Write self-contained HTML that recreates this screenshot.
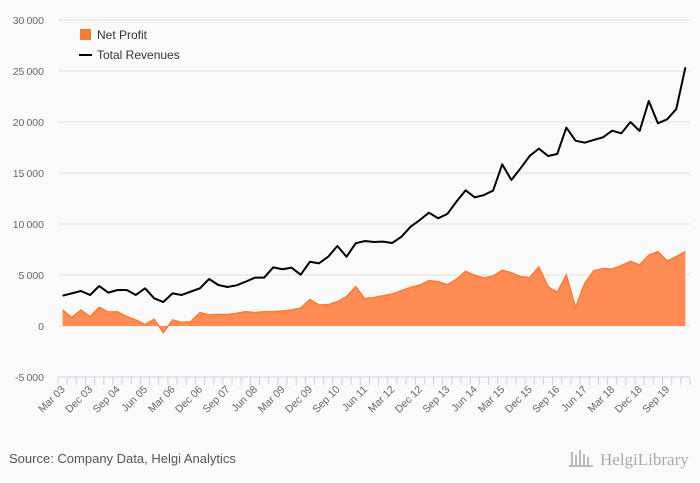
<!DOCTYPE html>
<html><head><meta charset="utf-8"><style>
body{margin:0;background:#fafafa;width:700px;height:483px;overflow:hidden;font-family:"Liberation Sans",sans-serif}
svg{display:block}
</style></head><body>
<svg id="chart" width="700" height="483" viewBox="0 0 700 483">
<rect width="700" height="483" fill="#fafafa"/>
<g id="grid"></g>
<g id="ylabels"></g>
<g id="plot"></g>
<g id="xaxis"></g>
<g>
<rect x="80" y="29" width="11" height="11" fill="#ff7a35"/>
<text x="97" y="39" font-size="12" fill="#333">Net Profit</text>
<line x1="79" y1="55" x2="92" y2="55" stroke="#000" stroke-width="2"/>
<text x="97" y="59" font-size="12" fill="#333">Total Revenues</text>
</g>
<text x="9" y="463" font-size="13" fill="#555">Source: Company Data, Helgi Analytics</text>
<text x="600" y="465" font-size="17" fill="#aaa" font-family="Liberation Serif, serif">HelgiLibrary</text>
<g fill="#bbb"><rect x="571" y="452" width="2" height="14"/><rect x="575" y="455" width="2" height="11"/><rect x="579" y="450" width="2" height="16"/><rect x="583" y="454" width="2" height="12"/><rect x="587" y="457" width="2" height="9"/><rect x="569" y="465" width="24" height="2"/></g>
</svg>
<script>
const categoryStartYear = 2003;
const revenues = [2970,3200,3430,3040,3920,3270,3530,3530,3040,3690,2710,2350,3200,3040,3370,3690,4610,4020,3820,3990,4350,4740,4740,5750,5560,5720,5030,6300,6140,6790,7840,6790,8110,8330,8240,8270,8140,8760,9740,10390,11110,10560,10980,12190,13300,12610,12840,13270,15850,14310,15460,16670,17390,16670,16860,19450,18170,17970,18240,18500,19150,18890,20000,19120,22060,19870,20260,21270,25360];
const netProfit = [1570,820,1570,920,1830,1370,1400,920,590,160,650,-650,590,360,420,1310,1080,1140,1110,1240,1410,1310,1410,1410,1470,1570,1760,2610,2060,2090,2390,2880,3860,2680,2800,2970,3140,3460,3790,4020,4450,4350,4050,4580,5360,4970,4710,4900,5460,5230,4840,4740,5780,3860,3300,5000,1800,4180,5430,5620,5590,5920,6340,5980,6930,7290,6370,6800,7290];
const yTicks = [-5000,0,5000,10000,15000,20000,25000,30000];
const months = ["Mar","Jun","Sep","Dec"];

const NS="http://www.w3.org/2000/svg";
const X0=58,X1=690,YTOP=20,YBOT=377,VMIN=-5000,VMAX=30000;
const n=revenues.length, bw=(X1-X0)/n;
function xs(i){return X0+bw*(i+0.5);}
function ys(v){return YBOT-(v-VMIN)/(VMAX-VMIN)*(YBOT-YTOP);}
function mk(t,a,p){const e=document.createElementNS(NS,t);for(const k in a)e.setAttribute(k,a[k]);p.appendChild(e);return e;}
const fmt=v=>String(v).replace(/\B(?=(\d{3})+(?!\d))/g,"\u2009");
const grid=document.getElementById('grid'),yl=document.getElementById('ylabels');
yTicks.forEach(v=>{
  if(v!==VMIN){const l=mk('line',{x1:X0,x2:X1,y1:ys(v),y2:ys(v),stroke:'#e2e2e2','stroke-width':1},grid);
  
  }
  const t=mk('text',{x:44,y:ys(v)+4,'text-anchor':'end','font-size':'10.5',fill:'#666'},yl);
  t.textContent=fmt(v).replace('-','-');
  
  
});
const plot=document.getElementById('plot');
let d='M'+xs(0)+','+ys(0);
netProfit.forEach((v,i)=>{d+='L'+xs(i)+','+ys(v);});
d+='L'+xs(n-1)+','+ys(0)+'Z';
const area=mk('path',{d:d,fill:'#ff8c55',stroke:'none'},plot);


const pl=mk('polyline',{points:netProfit.map((v,i)=>xs(i)+','+ys(v)).join(' '),fill:'none',stroke:'#ff7a35','stroke-width':1.5},plot);


const rl=mk('polyline',{points:revenues.map((v,i)=>xs(i)+','+ys(v)).join(' '),fill:'none',stroke:'#000','stroke-width':2,'stroke-linejoin':'round'},plot);


const xa=document.getElementById('xaxis');
const ax=mk('line',{x1:X0,x2:X1,y1:YBOT,y2:YBOT,stroke:'#c8d3e6','stroke-width':1},xa);


for(let i=0;i<=n;i++){const tk=mk('line',{x1:X0+bw*i,x2:X0+bw*i,y1:YBOT,y2:YBOT+8,stroke:'#c8d3e6','stroke-width':1},xa);
  
  }
for(let i=0;i<n;i+=3){
  const yr=categoryStartYear+Math.floor(i/4), lab=months[i%4]+' '+String(yr%100).padStart(2,'0');
  const x=xs(i)+3,y=YBOT+13;
  const t=mk('text',{x:x,y:y,'text-anchor':'end','font-size':'10.5',fill:'#666',transform:'rotate(-45 '+x+' '+y+')'},xa);
  t.textContent=lab;
  
  
}
</script>
</body></html>
